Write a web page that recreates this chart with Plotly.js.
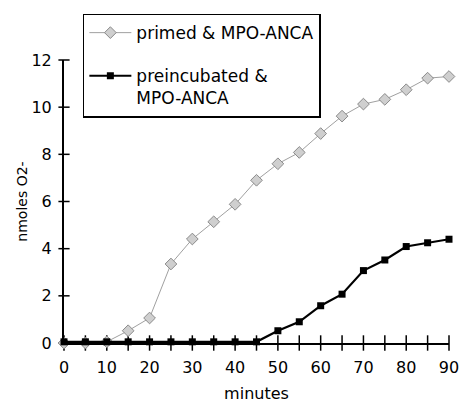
<!DOCTYPE html>
<html><head><meta charset="utf-8">
<script src="https://cdn.plot.ly/plotly-3.0.1.min.js"></script>
<style>body{margin:0;background:#fff}#c{width:467px;height:407px}</style>
</head><body><div id="c"></div>
<script>
const minutes = [0,5,10,15,20,25,30,35,40,45,50,55,60,65,70,75,80,85,90];
const primed = [0,0,0.05,0.52,1.06,3.35,4.41,5.14,5.88,6.9,7.6,8.08,8.88,9.62,10.13,10.33,10.74,11.23,11.3];
const preincubated = [0.05,0.05,0.05,0.05,0.05,0.05,0.05,0.05,0.05,0.05,0.52,0.9,1.58,2.07,3.07,3.52,4.09,4.25,4.4];
const seriesNames = ['primed & MPO-ANCA','preincubated &<br>MPO-ANCA'];
const xTickVals = [0,5,10,15,20,25,30,35,40,45,50,55,60,65,70,75,80,85,90];
const xTickText = ['0','','10','','20','','30','','40','','50','','60','','70','','80','','90'];
const yTickVals = [0,2,4,6,8,10,12];
const F = '"DejaVu Sans", Arial, sans-serif';

const traces = [
  // crossing tick marks (the axis ticks drawn through the axis line)
  {x: xTickVals, y: xTickVals.map(() => 0), mode: 'markers', showlegend: false, hoverinfo: 'skip',
   marker: {symbol: 'line-ns', size: 11, line: {color: '#000', width: 1.5}}, cliponaxis: false},
  {x: yTickVals.map(() => 0), y: yTickVals, mode: 'markers', showlegend: false, hoverinfo: 'skip',
   marker: {symbol: 'line-ew', size: 8, line: {color: '#000', width: 1.5}}, cliponaxis: false},
  {x: minutes, y: primed, name: seriesNames[0], legendgroup: 'a', mode: 'lines+markers',
   line: {color: '#a0a0a0', width: 1},
   marker: {symbol: 'diamond', size: 9, color: '#cfcfcf', line: {color: '#8a8a8a', width: 1}},
   cliponaxis: false},
  {x: minutes, y: preincubated, name: seriesNames[1], legendgroup: 'b', mode: 'lines+markers',
   line: {color: '#000', width: 2.2},
   marker: {symbol: 'square', size: 7, color: '#000'},
   cliponaxis: false}
];

const layout = {
  width: 467, height: 407,
  margin: {l: 64, r: 18, t: 60, b: 64},
  paper_bgcolor: '#fff', plot_bgcolor: '#fff',
  font: {family: F, color: '#000', size: 15},
  showlegend: true,
  legend: {x: 0.049, y: 1.164, xanchor: 'left', yanchor: 'top',
    bordercolor: '#000', borderwidth: 1.5, bgcolor: '#fff', valign: 'top',
    traceorder: 'grouped', tracegroupgap: 18,
    font: {family: F, size: 17, color: '#000'}, itemwidth: 42},
  xaxis: {range: [0, 90], tickmode: 'array', tickvals: xTickVals, ticktext: xTickText,
    ticks: '', showline: true, linecolor: '#000', linewidth: 2, showgrid: false, zeroline: false,
    tickfont: {family: F, size: 16}, ticklabelstandoff: 9,
    title: {text: 'minutes', font: {family: F, size: 16}, standoff: 12}},
  yaxis: {range: [0, 12], tickmode: 'array', tickvals: yTickVals,
    ticks: '', showline: true, linecolor: '#000', linewidth: 2, showgrid: false, zeroline: false,
    tickfont: {family: F, size: 16}, ticklabelstandoff: 7,
    title: {text: 'nmoles O2-', font: {family: F, size: 14}, standoff: 1}}
};
Plotly.newPlot('c', traces, layout, {displayModeBar: false, staticPlot: true});
</script></body></html>
